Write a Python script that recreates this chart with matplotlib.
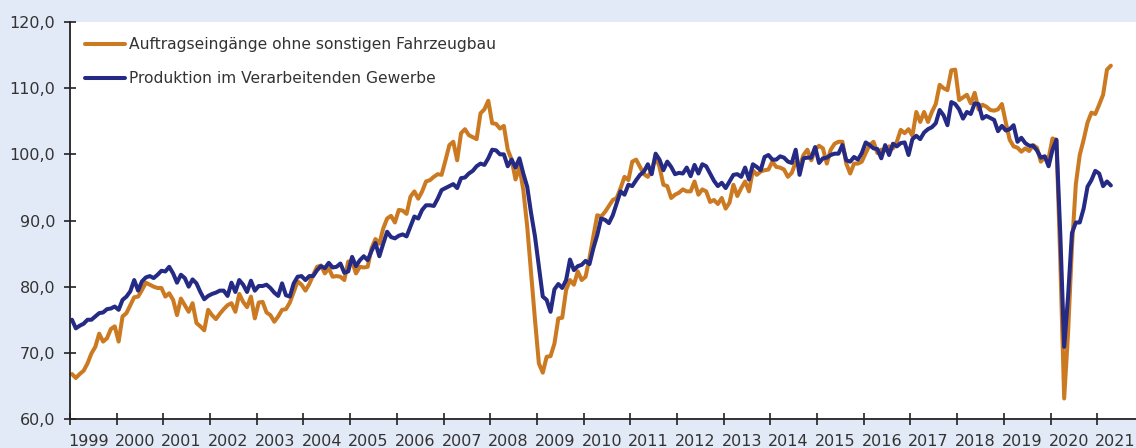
"""
Auftragseingänge und Produktion im Verarbeitenden Gewerbe, 1999-2021
"""
import numpy as np
import matplotlib
matplotlib.use("Agg")
import matplotlib.pyplot as plt
from matplotlib.ticker import FixedLocator, FuncFormatter, NullFormatter

# Monatswerte ab Januar 1999 (Index)
auftraege = [
    66.8, 66.2, 66.8, 67.3, 68.4, 69.9, 70.9, 72.9, 71.7, 72.2, 73.6, 74.0,  # 1999
    71.7, 75.5, 76.0, 77.2, 78.4, 78.5, 79.5, 80.6, 80.3, 80.0, 79.8, 79.8,  # 2000
    78.5, 79.0, 78.0, 75.7, 78.2, 77.2, 76.2, 77.5, 74.5, 74.0, 73.4, 76.5,  # 2001
    75.7, 75.1, 75.9, 76.6, 77.2, 77.5, 76.2, 78.9, 77.7, 76.9, 78.5, 75.2,  # 2002
    77.6, 77.7, 76.1, 75.7, 74.7, 75.5, 76.5, 76.6, 77.6, 79.2, 80.8, 80.3,  # 2003
    79.4, 80.4, 81.8, 83.0, 83.2, 82.0, 82.8, 81.5, 81.6, 81.5, 81.0, 83.8,  # 2004
    83.8, 82.0, 83.0, 82.9, 83.0, 85.8, 87.2, 86.5, 88.8, 90.3, 90.7, 89.7,  # 2005
    91.6, 91.5, 91.0, 93.6, 94.4, 93.3, 94.4, 95.9, 96.1, 96.6, 97.0, 96.9,  # 2006
    99.1, 101.4, 101.9, 99.1, 103.2, 103.8, 102.9, 102.6, 102.3, 106.2, 106.8, 108.1,  # 2007
    104.7, 104.6, 103.9, 104.3, 100.7, 99.2, 96.2, 98.1, 94.6, 89.1, 82.0, 75.0,  # 2008
    68.4, 67.0, 69.4, 69.5, 71.4, 75.2, 75.3, 79.5, 81.0, 80.3, 82.3, 81.0,  # 2009
    81.5, 84.3, 87.6, 90.8, 90.6, 91.3, 92.2, 93.1, 93.4, 94.9, 96.6, 96.1,  # 2010
    98.9, 99.2, 98.1, 97.0, 96.6, 97.6, 99.7, 98.1, 95.4, 95.2, 93.4, 93.9,  # 2011
    94.2, 94.7, 94.4, 94.4, 95.9, 93.9, 94.7, 94.4, 92.8, 93.1, 92.5, 93.4,  # 2012
    91.8, 92.7, 95.4, 93.7, 94.9, 95.9, 94.4, 97.6, 96.9, 97.4, 97.6, 97.7,  # 2013
    98.9, 98.1, 98.0, 97.7, 96.6, 97.2, 98.8, 98.1, 99.9, 100.7, 99.1, 100.7,  # 2014
    101.3, 100.9, 98.6, 100.7, 101.6, 101.9, 101.9, 98.6, 97.1, 98.6, 98.6, 98.9,  # 2015
    100.2, 101.4, 101.9, 100.2, 100.7, 100.6, 101.2, 100.9, 101.9, 103.7, 103.2, 103.8,  # 2016
    102.8, 106.4, 104.9, 106.4, 104.9, 106.4, 107.6, 110.5, 110.0, 109.7, 112.7, 112.8,  # 2017
    108.2, 108.6, 109.0, 107.7, 109.3, 106.8, 107.5, 107.2, 106.7, 106.6, 106.8, 107.6,  # 2018
    104.8, 102.2, 101.2, 101.0, 100.4, 100.9, 100.5, 101.4, 101.0, 98.9, 99.6, 99.4,  # 2019
    102.4, 102.2, 84.0, 63.1, 73.0, 86.0, 95.5, 99.9, 102.2, 104.8, 106.3, 106.1,  # 2020
    107.5, 109.0, 112.8, 113.4,  # 2021
]

produktion = [
    75.0, 73.7, 74.1, 74.4, 75.0, 75.0, 75.5, 76.0, 76.1, 76.6, 76.7, 77.0,  # 1999
    76.5, 78.0, 78.5, 79.3, 81.0, 79.4, 80.8, 81.4, 81.6, 81.3, 81.8, 82.4,  # 2000
    82.3, 83.0, 82.0, 80.6, 81.8, 81.3, 80.0, 81.1, 80.5, 79.2, 78.1, 78.6,  # 2001
    78.9, 79.1, 79.4, 79.4, 78.6, 80.6, 79.2, 81.0, 80.3, 79.2, 80.9, 79.4,  # 2002
    80.1, 80.1, 80.3, 79.8, 79.1, 78.6, 80.5, 78.7, 78.5, 80.5, 81.5, 81.6,  # 2003
    81.0, 81.6, 81.6, 82.5, 83.1, 82.8, 83.6, 82.9, 83.0, 83.5, 82.1, 82.3,  # 2004
    84.5, 83.1, 84.0, 84.6, 84.0, 85.4, 86.6, 84.6, 86.5, 88.3, 87.5, 87.3,  # 2005
    87.7, 87.9, 87.6, 89.1, 90.6, 90.3, 91.6, 92.3, 92.3, 92.2, 93.3, 94.6,  # 2006
    94.9, 95.2, 95.5, 94.9, 96.4, 96.5, 97.1, 97.5, 98.2, 98.6, 98.4, 99.4,  # 2007
    100.7, 100.6, 100.0, 100.0, 98.2, 99.2, 98.0, 99.4, 97.1, 95.1, 91.1, 87.6,  # 2008
    83.0, 78.5, 78.0, 76.2, 79.6, 80.4, 79.8, 81.0, 84.1, 82.5, 83.1, 83.3,  # 2009
    83.9, 83.4, 85.8, 87.8, 90.3, 90.1, 89.6, 90.8, 92.6, 94.4, 93.9, 95.4,  # 2010
    95.2, 96.1, 96.9, 97.4, 98.5, 97.0, 100.1, 99.2, 97.6, 98.9, 98.1, 97.0,  # 2011
    97.2, 97.1, 98.0, 96.7, 98.4, 97.1, 98.5, 98.2, 97.1, 96.0, 95.2, 95.7,  # 2012
    94.9, 95.9, 96.9, 97.0, 96.6, 98.0, 96.2, 98.5, 98.1, 97.6, 99.6, 99.9,  # 2013
    99.2, 99.2, 99.7, 99.5, 98.9, 98.7, 100.7, 96.9, 99.4, 99.5, 99.5, 101.1,  # 2014
    98.7, 99.4, 99.5, 99.9, 100.1, 100.1, 101.4, 99.1, 98.9, 99.6, 99.2, 100.2,  # 2015
    101.8, 101.4, 100.9, 100.8, 99.4, 101.4, 99.9, 101.6, 101.2, 101.7, 101.8, 99.9,  # 2016
    102.3, 102.8, 102.3, 103.3, 103.8, 104.1, 104.7, 106.7, 105.9, 104.4, 107.9, 107.6,  # 2017
    106.8, 105.4, 106.4, 106.1, 107.7, 107.6, 105.4, 105.8, 105.5, 105.2, 103.5, 104.3,  # 2018
    103.6, 103.8, 104.4, 101.9, 102.5, 101.7, 101.3, 101.3, 100.6, 99.5, 99.7, 98.2,  # 2019
    100.7, 102.2, 88.0, 70.9, 78.5, 88.1, 89.7, 89.7, 91.8, 95.1, 96.1, 97.5,  # 2020
    97.1, 95.2, 95.9, 95.3,  # 2021
]

labels = [
    "Auftragseingänge ohne sonstigen Fahrzeugbau",
    "Produktion im Verarbeitenden Gewerbe",
]
jahre = list(range(1999, 2022))
y_ticks = [60, 70, 80, 90, 100, 110, 120]

ORANGE = "#CB7A22"
BLAU = "#252A84"
HINTERGRUND = "#E3EAF7"
TEXT = "#333333"

plt.rcParams["font.family"] = ["DejaVu Sans"]

# Zeitachse: Monatsmitte
t = 1999 + (np.arange(len(auftraege)) + 0.5) / 12

fig = plt.figure(figsize=(11.36, 4.48), dpi=100, facecolor=HINTERGRUND)
ax = fig.add_axes([70 / 1136, 1 - 419 / 448, 1066 / 1136, 397 / 448])
ax.set_facecolor("white")

ax.plot(t, auftraege, color=ORANGE, lw=2.9, solid_joinstyle="round",
        solid_capstyle="round", label=labels[0])
ax.plot(t, produktion, color=BLAU, lw=2.9, solid_joinstyle="round",
        solid_capstyle="round", label=labels[1])

ax.set_xlim(1999, 2021.83)
ax.set_ylim(60, 120)

# Jahresstriche ohne Beschriftung, Jahreszahlen rechts neben dem Strich
ax.xaxis.set_major_locator(FixedLocator(jahre))
ax.xaxis.set_major_formatter(NullFormatter())
ax.xaxis.set_minor_locator(FixedLocator([j + 0.39 for j in jahre]))
ax.xaxis.set_minor_formatter(FuncFormatter(lambda v, p: str(int(round(v - 0.39)))))
ax.tick_params(axis="x", which="minor", length=0, pad=10.5,
               labelsize=11.5, labelcolor=TEXT)
ax.tick_params(axis="x", which="major", direction="inout", length=9,
               width=1.2, color="#222222")

ax.set_yticks(y_ticks)
ax.yaxis.set_major_formatter(FuncFormatter(lambda v, p: f"{v:.1f}".replace(".", ",")))
ax.tick_params(axis="y", direction="inout", length=9, width=1.2,
               color="#222222", labelsize=11.5, labelcolor=TEXT, pad=6)

for side in ["top", "right"]:
    ax.spines[side].set_visible(False)
for side in ["left", "bottom"]:
    ax.spines[side].set_color("#222222")
    ax.spines[side].set_linewidth(1.3)

leg = ax.legend(loc="upper left", bbox_to_anchor=(15 / 1066, 1 - 15 / 397),
                frameon=False, fontsize=11.2, handlelength=2.6,
                handletextpad=0.2, labelspacing=1.25, borderpad=0,
                borderaxespad=0)
for txt in leg.get_texts():
    txt.set_color(TEXT)

fig.savefig("out.png", dpi=100, facecolor=HINTERGRUND)
